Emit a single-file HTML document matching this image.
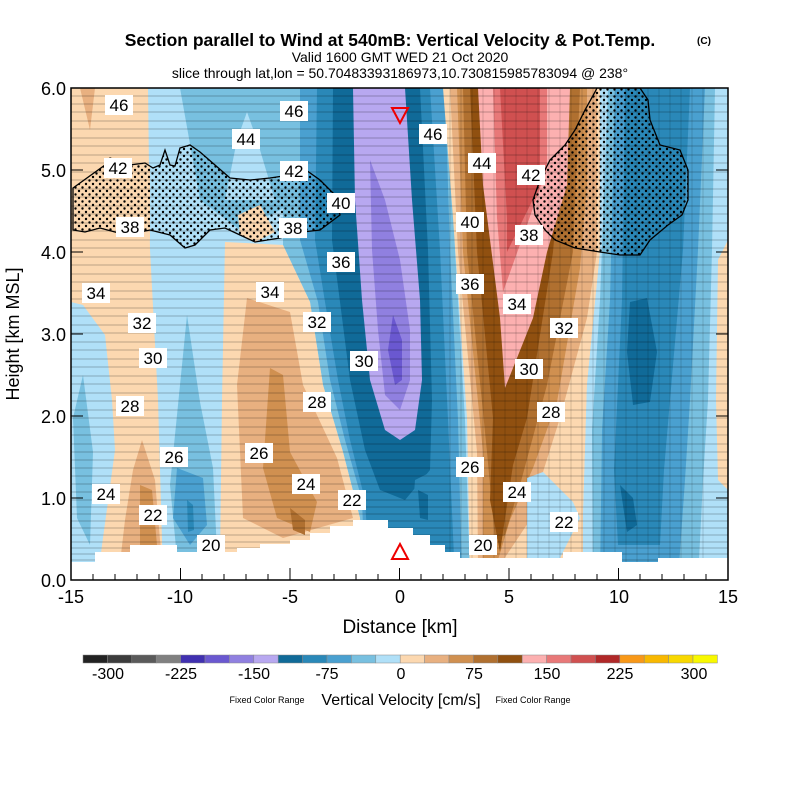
<!DOCTYPE html>
<html><head><meta charset="utf-8"><style>
body{margin:0;background:#fff}
svg{display:block;font-family:"Liberation Sans",sans-serif}
</style></head><body>
<svg width="800" height="800" viewBox="0 0 800 800" xmlns="http://www.w3.org/2000/svg">
<defs>
<clipPath id="pc"><rect x="71" y="88" width="657" height="492"/></clipPath>
<pattern id="dots" width="7" height="7" patternUnits="userSpaceOnUse"><circle cx="2" cy="2" r="1.2" fill="#000"/><circle cx="5.5" cy="5.5" r="1.2" fill="#000"/></pattern>
</defs>
<rect width="800" height="800" fill="#fff"/>
<text x="390" y="46" font-size="17.5" font-weight="bold" text-anchor="middle">Section parallel to Wind at 540mB: Vertical Velocity &amp; Pot.Temp.</text>
<text x="704" y="44" font-size="10" font-weight="bold" text-anchor="middle">(C)</text>
<text x="400" y="62" font-size="14" text-anchor="middle">Valid 1600 GMT WED 21 Oct 2020</text>
<text x="400" y="78" font-size="14" text-anchor="middle">slice through lat,lon = 50.70483393186973,10.730815985783094 @ 238°</text>
<g clip-path="url(#pc)">
<rect x="71" y="88" width="657" height="492" fill="#b0e0f8"/>
<polygon fill="#fcd8b0" points="71,88 148,88 150,250 158,400 162,540 163,580 100,580 100,560 115,450 112,400 105,335 83,305 71,302"/>
<polygon fill="#e8b080" points="80,88 95,88 90,130"/>
<polygon fill="#e8b080" points="142,440 155,480 160,540 165,580 118,580 125,520 133,470"/>
<polygon fill="#d09050" points="140,485 152,490 157,545 150,560 140,545"/>
<polygon fill="#78c0e0" points="83,375 93,452 90,545 77,518 73,418"/>
<polygon fill="#78c0e0" points="187,315 200,402 213,468 217,552 177,558 170,485"/>
<polygon fill="#4aa0d0" points="177,468 203,478 207,525 190,545 173,518"/>
<polygon fill="#2a88b8" points="187,500 193,505 194,530 188,532"/>
<polygon fill="#78c0e0" points="180,88 300,88 300,200 240,230 200,200"/>
<polygon fill="#b0e0f8" points="247,112 257,140 275,200 225,200 237,140"/>
<polygon fill="#78c0e0" points="283,88 450,88 455,250 465,420 470,580 360,580 360,518 343,452 323,385 310,302 283,245"/>
<polygon fill="#4aa0d0" points="300,88 445,88 450,250 458,420 462,580 365,580 362,500 345,440 330,380 318,302 300,240"/>
<polygon fill="#2a88b8" points="317,88 430,88 440,250 448,420 455,580 370,580 365,500 350,440 338,380 325,302 315,240"/>
<polygon fill="#106a98" points="333,88 420,88 428,250 432,400 430,470 405,500 380,490 365,450 350,380 340,302 332,240"/>
<polygon fill="#b8a8f0" points="353,88 405,88 412,200 420,300 422,380 415,430 400,440 385,430 370,380 362,300 355,200"/>
<polygon fill="#9080e0" points="370,160 385,200 400,260 410,330 410,380 400,410 385,395 378,330 372,250"/>
<polygon fill="#6a58d0" points="393,315 402,340 402,380 395,385 388,350"/>
<polygon fill="#2a88b8" points="415,480 435,470 445,510 430,540 412,520"/>
<polygon fill="#106a98" points="418,490 428,495 428,520 420,518"/>
<polygon fill="#fcd8b0" points="225,242 283,245 310,302 323,385 343,452 360,518 362,560 220,560 222,400"/>
<polygon fill="#e8b080" points="247,298 290,312 303,385 337,458 353,518 283,538 243,518 237,385"/>
<polygon fill="#d09050" points="270,368 283,375 290,452 317,502 310,532 277,518 263,468"/>
<polygon fill="#b07030" points="290,508 305,520 305,535 293,530"/>
<polygon fill="#fcd8b0" points="443,88 600,88 600,252 587,385 583,518 587,580 470,580 467,418 453,218"/>
<polygon fill="#e8b080" points="450,88 597,88 597,252 587,318 560,418 543,472 530,520 500,565 478,565 477,452 458,252"/>
<polygon fill="#d09050" points="457,88 587,88 587,185 580,268 557,402 533,468 510,520 498,560 483,560 483,452 463,252"/>
<polygon fill="#b07030" points="463,88 580,88 573,252 547,385 520,485 505,535 495,540 487,452 467,252"/>
<polygon fill="#905010" points="470,88 567,88 553,252 527,418 513,465 500,552 490,500 493,418 477,252"/>
<polygon fill="#fcb0b0" points="478,88 570,88 567,185 547,252 533,318 505,388 500,318 483,185"/>
<polygon fill="#e87878" points="493,88 547,88 547,168 527,225 503,292 497,218"/>
<polygon fill="#d05050" points="500,88 540,88 540,185 507,252 507,218"/>
<polygon fill="#b0e0f8" points="527,478 543,472 573,502 580,518 560,558 527,558"/>
<polygon fill="#b0e0f8" points="600,88 728,88 728,580 583,580 583,518 587,385 600,252"/>
<polygon fill="#78c0e0" points="608,88 715,88 712,250 708,400 703,480 698,580 593,580 592,430 600,300"/>
<polygon fill="#4aa0d0" points="615,88 705,88 698,250 690,400 685,480 678,580 600,580 602,430 610,300"/>
<polygon fill="#2a88b8" points="625,88 690,88 683,250 670,400 664,470 660,545 618,545 614,470 622,300"/>
<polygon fill="#106a98" points="630,302 647,298 657,352 650,402 633,405 627,352"/>
<polygon fill="#106a98" points="620,485 633,498 637,525 627,532"/>
<polygon fill="#fcd8b0" points="728,240 718,260 716,400 718,480 728,490"/>
<polygon fill="#fcd8b0" points="238,215 260,205 275,232 255,242 240,235"/>
<polygon fill="#fcd8b0" points="73,188 105,165 150,165 150,240 100,228 73,230"/>
<polygon fill="url(#dots)" stroke="#000" stroke-width="1.3" points="73,188 105,165 110,158 130,165 145,163 153,168 160,165 165,150 170,165 175,166 180,148 190,145 200,152 215,165 230,178 250,180 270,178 290,175 303,168 320,180 335,195 340,215 320,230 303,232 280,238 255,242 240,235 225,228 210,230 195,245 185,248 170,235 150,230 140,232 128,235 115,232 100,228 85,232 73,230"/>
<polygon fill="url(#dots)" stroke="#000" stroke-width="1.3" points="597,88 640,88 648,100 650,120 660,145 680,150 688,170 688,200 682,215 668,225 650,240 640,255 620,255 600,252 575,248 555,240 545,230 535,215 533,200 540,180 550,160 565,145 575,130 585,110 595,92"/>
<g stroke="#000" stroke-width="0.6" fill="none" opacity="0.5">
<path d="M71,96H728M71,104H728M71,112H728M71,121H728M71,129H728M71,138H728M71,146H728M71,155H728M71,163H728M71,172H728M71,180H728M71,189H728M71,197H728M71,206H728M71,214H728M71,223H728M71,231H728M71,240H728M71,248H728M71,257H728M71,265H728M71,274H728M71,282H728M71,291H728M71,299H728M71,308H728M71,316H728M71,325H728M71,333H728M71,342H728M71,350H728M71,359H728M71,367H728M71,376H728M71,384H728M71,393H728M71,401H728M71,410H728M71,418H728M71,427H728M71,435H728M71,444H728M71,452H728M71,460H728M71,468H728M71,476H728M71,484H728M71,492H728M71,500H728M71,507H728M71,514H728M71,521H728M71,528H728M71,535H728M71,542H728M71,548H728M71,554H728M71,560H728M71,566H728M71,572H728"/>
</g>
<g stroke="#000" stroke-width="0.5" fill="none" opacity="0.3">
<path d="M450,88V580M461,88V580M472,88V580M483,88V580M494,88V580M505,88V580M516,88V580M527,88V580M538,88V580M549,88V580M560,88V580M571,88V580M582,88V580M593,88V580M604,88V580M615,88V580M626,88V580M637,88V580M648,88V580M659,88V580M670,88V580M681,88V580M692,88V580M703,88V580"/>
</g>
<polygon fill="#fff" points="71,562 95,562 95,552 130,552 130,545 177,545 177,552 237,552 237,548 260,548 260,544 290,544 290,540 310,540 310,533 330,533 330,526 353,526 353,520 388,520 388,528 413,528 413,535 430,535 430,545 445,545 445,552 460,552 460,558 507,558 507,558 563,558 563,552 622,552 622,562 658,562 658,558 728,558 728,580 71,580"/>
</g>
<rect x="71" y="88" width="657" height="492" fill="none" stroke="#000" stroke-width="1.5"/>
<g stroke="#000" stroke-width="1">
<path d="M71,580v-12M180.5,580v-12M290,580v-12M399.5,580v-12M509,580v-12M618.5,580v-12M728,580v-12"/>
<path d="M93,580v-6M115,580v-6M137,580v-6M159,580v-6M202,580v-6M224,580v-6M246,580v-6M268,580v-6M312,580v-6M334,580v-6M356,580v-6M378,580v-6M421,580v-6M443,580v-6M465,580v-6M487,580v-6M531,580v-6M553,580v-6M575,580v-6M597,580v-6M640,580v-6M662,580v-6M684,580v-6M706,580v-6"/>
<path d="M71,498h12M71,416h12M71,334h12M71,252h12M71,170h12M728,498h-12M728,416h-12M728,334h-12M728,252h-12M728,170h-12"/>
</g>
<g font-size="18" text-anchor="end">
<text x="66" y="587">0.0</text><text x="66" y="505">1.0</text><text x="66" y="423">2.0</text><text x="66" y="341">3.0</text><text x="66" y="259">4.0</text><text x="66" y="177">5.0</text><text x="66" y="95">6.0</text>
</g>
<g font-size="18" text-anchor="middle">
<text x="71" y="603">-15</text><text x="180" y="603">-10</text><text x="290" y="603">-5</text><text x="400" y="603">0</text><text x="509" y="603">5</text><text x="619" y="603">10</text><text x="728" y="603">15</text>
</g>
<text x="400" y="633" font-size="19" text-anchor="middle">Distance [km]</text>
<text transform="translate(19,334) rotate(-90)" font-size="18" text-anchor="middle">Height [km MSL]</text>
<g font-size="17" text-anchor="middle">
<g fill="#fff">
<rect x="105" y="95" width="28" height="20"/><rect x="280" y="101" width="28" height="20"/><rect x="232" y="129" width="28" height="20"/><rect x="104" y="158" width="28" height="20"/><rect x="280" y="161" width="28" height="20"/><rect x="327" y="193" width="28" height="20"/><rect x="116" y="217" width="28" height="20"/><rect x="279" y="218" width="28" height="20"/><rect x="327" y="252" width="28" height="20"/><rect x="82" y="283" width="28" height="20"/><rect x="256" y="282" width="28" height="20"/><rect x="128" y="313" width="28" height="20"/><rect x="303" y="312" width="28" height="20"/><rect x="139" y="348" width="28" height="20"/><rect x="350" y="351" width="28" height="20"/><rect x="116" y="396" width="28" height="20"/><rect x="303" y="392" width="28" height="20"/><rect x="160" y="447" width="28" height="20"/><rect x="245" y="443" width="28" height="20"/><rect x="92" y="484" width="28" height="20"/><rect x="292" y="474" width="28" height="20"/><rect x="139" y="505" width="28" height="20"/><rect x="338" y="490" width="28" height="20"/><rect x="197" y="535" width="28" height="20"/><rect x="419" y="124" width="28" height="20"/><rect x="468" y="153" width="28" height="20"/><rect x="517" y="165" width="28" height="20"/><rect x="456" y="212" width="28" height="20"/><rect x="515" y="225" width="28" height="20"/><rect x="456" y="274" width="28" height="20"/><rect x="503" y="294" width="28" height="20"/><rect x="550" y="318" width="28" height="20"/><rect x="515" y="359" width="28" height="20"/><rect x="537" y="402" width="28" height="20"/><rect x="456" y="457" width="28" height="20"/><rect x="503" y="482" width="28" height="20"/><rect x="550" y="512" width="28" height="20"/><rect x="469" y="535" width="28" height="20"/>
</g>
<text x="119" y="111">46</text><text x="294" y="117">46</text><text x="246" y="145">44</text><text x="118" y="174">42</text><text x="294" y="177">42</text><text x="341" y="209">40</text><text x="130" y="233">38</text><text x="293" y="234">38</text><text x="341" y="268">36</text><text x="96" y="299">34</text><text x="270" y="298">34</text><text x="142" y="329">32</text><text x="317" y="328">32</text><text x="153" y="364">30</text><text x="364" y="367">30</text><text x="130" y="412">28</text><text x="317" y="408">28</text><text x="174" y="463">26</text><text x="259" y="459">26</text><text x="106" y="500">24</text><text x="306" y="490">24</text><text x="153" y="521">22</text><text x="352" y="506">22</text><text x="211" y="551">20</text><text x="433" y="140">46</text><text x="482" y="169">44</text><text x="531" y="181">42</text><text x="470" y="228">40</text><text x="529" y="241">38</text><text x="470" y="290">36</text><text x="517" y="310">34</text><text x="564" y="334">32</text><text x="529" y="375">30</text><text x="551" y="418">28</text><text x="470" y="473">26</text><text x="517" y="498">24</text><text x="564" y="528">22</text><text x="483" y="551">20</text>
</g>
<polygon points="392,108 408,108 400,123" fill="none" stroke="#e00" stroke-width="2"/>
<polygon points="392,559 408,559 400,544" fill="none" stroke="#e00" stroke-width="2"/>
<g stroke="#888" stroke-width="0.5">
<rect x="83" y="655" width="24.4" height="8" fill="#222"/><rect x="107.4" y="655" width="24.4" height="8" fill="#3c3c3c"/><rect x="131.8" y="655" width="24.4" height="8" fill="#5a5a5a"/><rect x="156.2" y="655" width="24.4" height="8" fill="#808080"/><rect x="180.6" y="655" width="24.4" height="8" fill="#4030b0"/><rect x="205" y="655" width="24.4" height="8" fill="#6a58d0"/><rect x="229.4" y="655" width="24.4" height="8" fill="#9080e0"/><rect x="253.8" y="655" width="24.4" height="8" fill="#b8a8f0"/><rect x="278.2" y="655" width="24.4" height="8" fill="#106a98"/><rect x="302.6" y="655" width="24.4" height="8" fill="#2a88b8"/><rect x="327" y="655" width="24.4" height="8" fill="#4aa0d0"/><rect x="351.4" y="655" width="24.4" height="8" fill="#78c0e0"/><rect x="375.8" y="655" width="24.4" height="8" fill="#b0e0f8"/><rect x="400.2" y="655" width="24.4" height="8" fill="#fcd8b0"/><rect x="424.6" y="655" width="24.4" height="8" fill="#e8b080"/><rect x="449" y="655" width="24.4" height="8" fill="#d09050"/><rect x="473.4" y="655" width="24.4" height="8" fill="#b07030"/><rect x="497.8" y="655" width="24.4" height="8" fill="#905010"/><rect x="522.2" y="655" width="24.4" height="8" fill="#fcb0b0"/><rect x="546.6" y="655" width="24.4" height="8" fill="#e87878"/><rect x="571" y="655" width="24.4" height="8" fill="#d05050"/><rect x="595.4" y="655" width="24.4" height="8" fill="#b02828"/><rect x="619.8" y="655" width="24.4" height="8" fill="#f89818"/><rect x="644.2" y="655" width="24.4" height="8" fill="#f8b800"/><rect x="668.6" y="655" width="24.4" height="8" fill="#f8d800"/><rect x="693" y="655" width="24.4" height="8" fill="#f8f800"/>
</g>
<g font-size="16" text-anchor="middle">
<text x="108" y="679">-300</text><text x="181" y="679">-225</text><text x="254" y="679">-150</text><text x="327" y="679">-75</text><text x="401" y="679">0</text><text x="474" y="679">75</text><text x="547" y="679">150</text><text x="620" y="679">225</text><text x="694" y="679">300</text>
</g>
<text x="401" y="705" font-size="16" text-anchor="middle">Vertical Velocity [cm/s]</text>
<text x="267" y="703" font-size="9" text-anchor="middle">Fixed Color Range</text>
<text x="533" y="703" font-size="9" text-anchor="middle">Fixed Color Range</text>
</svg>
</body></html>
